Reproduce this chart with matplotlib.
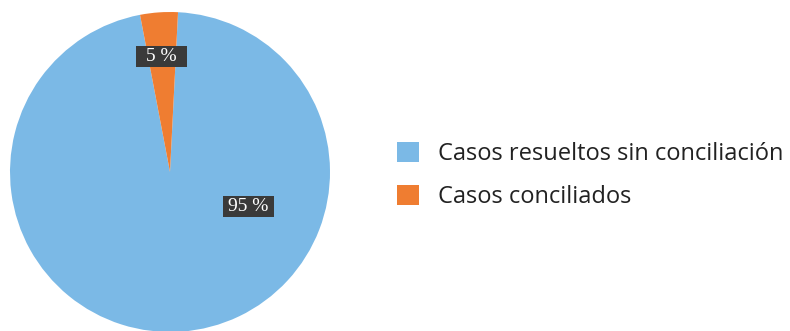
import matplotlib
matplotlib.use("Agg")
import matplotlib.pyplot as plt
from matplotlib.patches import Rectangle

# Data
categories = ["Casos resueltos sin conciliación", "Casos conciliados"]
shares = [96.2, 3.8]
pct_labels = ["95 %", "5 %"]
colors = ["#7BB9E6", "#EF7D31"]

W, H = 790, 331
fig = plt.figure(figsize=(W / 100, H / 100), dpi=100)

# pie: centre at (170, 172) px from top-left, radius 160 px
cx, cy, r = 170, 172, 160
ax = fig.add_axes([(cx - r) / W, (H - cy - r) / H, 2 * r / W, 2 * r / H])
wedges, _ = ax.pie(shares, colors=colors, startangle=100.8, counterclock=True,
                   radius=1, wedgeprops=dict(linewidth=0))
ax.set_xlim(-1, 1)
ax.set_ylim(-1, 1)
ax.set_aspect("equal")
ax.axis("off")

# value labels in fixed-size dark boxes (51 x 21 px)
bw, bh = 51 / r, 21 / r
label_pos = [(0.4875, -0.215), (-0.053, 0.72)]
for (x, y), txt in zip(label_pos, pct_labels):
    ax.add_patch(Rectangle((x - bw / 2, y - bh / 2), bw, bh,
                           fc="#3A3A3A", ec="none", zorder=3))
    ax.text(x, y, txt, ha="center", va="center", color="white",
            fontsize=14, family="Liberation Serif", zorder=4)

leg = fig.legend(wedges, categories, loc="upper left",
                 bbox_to_anchor=(397 / W, 1 - 142 / H),
                 frameon=False, prop={"family": "Open Sans", "size": 17},
                 handlelength=0.93, handleheight=0.93, handletextpad=0.8,
                 labelspacing=0.78, borderpad=0, borderaxespad=0)
for t in leg.get_texts():
    t.set_color("#222222")

fig.savefig("out.png", dpi=100)
